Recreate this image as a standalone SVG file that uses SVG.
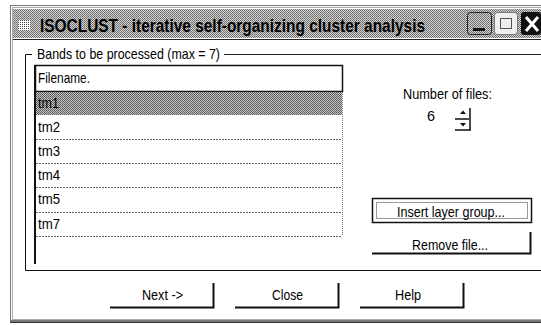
<svg xmlns="http://www.w3.org/2000/svg" width="541" height="325" viewBox="0 0 541 325">
<defs>
<pattern id="dither" width="2" height="2" patternUnits="userSpaceOnUse">
<rect width="2" height="2" fill="#d2d2d2"/>
<rect width="1" height="1" fill="#6a6a6a"/>
<rect x="1" y="1" width="1" height="1" fill="#7a7a7a"/>
</pattern>
<pattern id="hilite" width="2" height="2" patternUnits="userSpaceOnUse">
<rect width="2" height="2" fill="#c4c4c4"/>
<rect width="1" height="1" fill="#555"/>
<rect x="1" y="1" width="1" height="1" fill="#666"/>
</pattern>
<pattern id="dots" width="2" height="2" patternUnits="userSpaceOnUse">
<rect width="2" height="2" fill="#fff"/>
<rect width="1" height="1" fill="#444"/>
</pattern>
</defs>
<style>
text{font-family:"Liberation Sans",Arial,sans-serif;font-size:15px;fill:#000}
.title{font-weight:bold;font-size:19px}
.sep{stroke:#666;stroke-width:1;stroke-dasharray:2 1}
.dark{stroke:#111;fill:none}
</style>
<rect width="541" height="325" fill="#fff"/>

<g id="window">
<rect x="10.5" y="5.5" width="540" height="316" fill="none" stroke="#777" stroke-width="1"/>
<rect x="12.5" y="7.5" width="540" height="312" fill="none" stroke="#555" stroke-width="1" stroke-dasharray="1 1"/>
<line x1="10" y1="322.5" x2="541" y2="322.5" stroke="#333" stroke-width="1"/>
<line x1="10" y1="320.5" x2="541" y2="320.5" stroke="#777" stroke-width="1"/>
</g>

<g id="titlebar">
<rect x="13" y="9" width="528" height="29" fill="url(#dither)"/>
<line x1="13" y1="39.5" x2="541" y2="39.5" stroke="#222" stroke-width="1"/>
<rect x="18" y="20" width="12" height="10" fill="url(#dots)"/>
<text class="title" x="40" y="32" textLength="385" lengthAdjust="spacingAndGlyphs">ISOCLUST - iterative self-organizing cluster analysis</text>
<g id="btn-min">
<rect x="467.5" y="12.5" width="24" height="22" rx="3" fill="url(#dither)" stroke="#222"/>
<rect x="473" y="28" width="12" height="3" fill="#111"/>
</g>
<g id="btn-max">
<rect x="494.5" y="12.5" width="23" height="22" rx="3" fill="#eee" stroke="#777"/>
<rect x="500.5" y="18.5" width="11" height="10" fill="none" stroke="#555"/>
</g>
<g id="btn-close">
<rect x="521" y="12" width="20" height="23" rx="3" fill="#111"/>
<path d="M526 17 L538 31 M538 17 L526 31" stroke="#fff" stroke-width="3"/>
</g>
</g>

<g id="groupbox">
<path d="M32 54.5 H25.5 V270.5 H541" class="dark" stroke-width="1"/>
<line x1="224" y1="54.5" x2="541" y2="54.5" stroke="#222" stroke-width="1"/>
<text x="37" y="59" textLength="183" lengthAdjust="spacingAndGlyphs">Bands to be processed (max = 7)</text>
</g>

<g id="filelist">
<rect x="35" y="65" width="308" height="198" fill="#fff"/>
<rect x="35.5" y="65.5" width="307" height="26" fill="#fff" stroke="#111" stroke-width="1.5"/>
<text x="38" y="83" textLength="52" lengthAdjust="spacingAndGlyphs">Filename.</text>
<rect x="36" y="92" width="306" height="23" fill="url(#hilite)"/>
<text x="38" y="108" textLength="21" lengthAdjust="spacingAndGlyphs">tm1</text>
<line class="sep" x1="36" y1="139.5" x2="342" y2="139.5"/>
<line class="sep" x1="36" y1="163.5" x2="342" y2="163.5"/>
<line class="sep" x1="36" y1="187.5" x2="342" y2="187.5"/>
<line class="sep" x1="36" y1="212.5" x2="342" y2="212.5"/>
<line class="sep" x1="36" y1="236.5" x2="342" y2="236.5"/>
<text x="38" y="132" textLength="22" lengthAdjust="spacingAndGlyphs">tm2</text>
<text x="38" y="156" textLength="22" lengthAdjust="spacingAndGlyphs">tm3</text>
<text x="38" y="180" textLength="22" lengthAdjust="spacingAndGlyphs">tm4</text>
<text x="38" y="204" textLength="22" lengthAdjust="spacingAndGlyphs">tm5</text>
<text x="38" y="229" textLength="22" lengthAdjust="spacingAndGlyphs">tm7</text>
<line x1="35" y1="65" x2="35" y2="264" stroke="#111" stroke-width="2"/>
<line x1="342.5" y1="92" x2="342.5" y2="236" stroke="#777" stroke-width="1" stroke-dasharray="1 1"/>
</g>

<g id="numfiles">
<text x="403" y="99" textLength="89" lengthAdjust="spacingAndGlyphs">Number of files:</text>
<text x="427" y="121" textLength="8" lengthAdjust="spacingAndGlyphs">6</text>
<g id="spinner" stroke="#111" fill="none" stroke-width="1.5">
<path d="M470 108 V118 M455 119 H471 M470 120 V130 M455 130 H471"/>
<path d="M460 114 L463 110.5 L466 114 Z M460 123 L463 126.5 L466 123 Z" fill="#111" stroke="none"/>
</g>
</g>

<g id="btn-insert">
<rect x="372.5" y="198.5" width="159" height="24" fill="#fff" stroke="#111" stroke-width="1.5"/>
<rect x="376.5" y="202.5" width="151" height="16" fill="none" stroke="#333" stroke-width="1" stroke-dasharray="1 1"/>
<text x="397" y="217" textLength="108" lengthAdjust="spacingAndGlyphs">Insert layer group...</text>
</g>

<g id="btn-remove">
<path d="M372 253.5 H530.5 V232" class="dark" stroke-width="2"/>
<text x="412" y="250" textLength="76" lengthAdjust="spacingAndGlyphs">Remove file...</text>
</g>

<g id="btn-next">
<path d="M110 307.5 H213.5 V283" class="dark" stroke-width="2"/>
<text x="142" y="300" textLength="41" lengthAdjust="spacingAndGlyphs">Next -&gt;</text>
</g>

<g id="btn-closebtn">
<path d="M235 307.5 H338.5 V283" class="dark" stroke-width="2"/>
<text x="272" y="300" textLength="31" lengthAdjust="spacingAndGlyphs">Close</text>
</g>

<g id="btn-help">
<path d="M360 307.5 H463.5 V283" class="dark" stroke-width="2"/>
<text x="395" y="300" textLength="26" lengthAdjust="spacingAndGlyphs">Help</text>
</g>
</svg>
